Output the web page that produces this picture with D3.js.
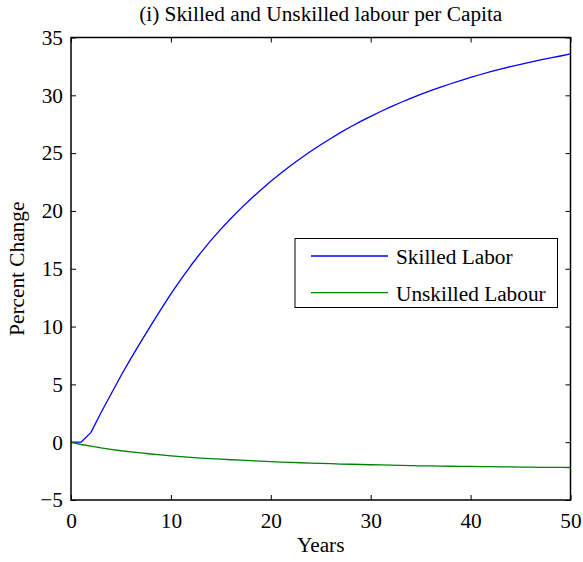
<!DOCTYPE html>
<html>
<head>
<meta charset="utf-8">
<script src="https://cdn.jsdelivr.net/npm/d3@7"></script>
<style>
  html, body { margin: 0; padding: 0; background: #fff; }
  svg { display: block; }
  text { font-family: "Liberation Serif", "Times New Roman", serif; fill: #000; }
</style>
</head>
<body>
<svg id="chart" width="583" height="562"></svg>
<script>
// Years 0..50
const years = d3.range(0, 51);

// Percent change, skilled labour per capita
const skilled = [
  0.0, 0.0, 0.85, 2.55, 4.15, 5.75, 7.25, 8.7, 10.1, 11.48,
  12.82, 14.08, 15.28, 16.4, 17.45, 18.43, 19.35, 20.22, 21.04, 21.82,
  22.56, 23.26, 23.93, 24.56, 25.16, 25.73, 26.27, 26.79, 27.28, 27.74,
  28.18, 28.6, 29.0, 29.38, 29.74, 30.08, 30.4, 30.71, 31.0, 31.28,
  31.55, 31.8, 32.04, 32.26, 32.48, 32.68, 32.87, 33.06, 33.23, 33.4,
  33.58
];

// Percent change, unskilled labour per capita
const unskilled = [
  0.0, -0.2, -0.35, -0.5, -0.62, -0.74, -0.84, -0.93, -1.02, -1.1,
  -1.18, -1.25, -1.31, -1.37, -1.42, -1.47, -1.52, -1.56, -1.6, -1.64,
  -1.68, -1.72, -1.75, -1.78, -1.81, -1.84, -1.86, -1.89, -1.91, -1.93,
  -1.95, -1.97, -1.99, -2.01, -2.02, -2.04, -2.05, -2.07, -2.08, -2.09,
  -2.1, -2.11, -2.12, -2.13, -2.14, -2.15, -2.16, -2.17, -2.17, -2.18,
  -2.19
];

const xTicks = [0, 10, 20, 30, 40, 50];
const yTicks = [-5, 0, 5, 10, 15, 20, 25, 30, 35];

const seriesNames = ["Skilled Labor", "Unskilled Labour"];
const seriesColors = ["#0000ff", "#008000"];

const titleText = "(i) Skilled and Unskilled labour per Capita";
const xLabel = "Years";
const yLabel = "Percent Change";

const svg = d3.select("#chart");
const plotL = 71, plotR = 570.5, plotT = 37.5, plotB = 500;
const fontSize = 21.3;

const x = d3.scaleLinear().domain([0, 50]).range([plotL, plotR]);
const y = d3.scaleLinear().domain([-5, 35]).range([plotB, plotT]);

// Axes with inward ticks, mirrored on top and right
const tickLen = 5;
const axB = d3.axisBottom(x).tickValues(xTicks).tickSizeInner(-tickLen).tickSizeOuter(0).tickPadding(13);
const axT = d3.axisTop(x).tickValues(xTicks).tickSizeInner(-tickLen).tickSizeOuter(0).tickFormat("");
const axL = d3.axisLeft(y).tickValues(yTicks).tickSizeInner(-tickLen).tickSizeOuter(0).tickPadding(8)
  .tickFormat(d => d < 0 ? "\u2212" + Math.abs(d) : d);
const axR = d3.axisRight(y).tickValues(yTicks).tickSizeInner(-tickLen).tickSizeOuter(0).tickFormat("");

function styleAxis(g) {
  g.select(".domain").remove();
  g.selectAll(".tick line").attr("stroke", "#000").attr("stroke-width", 1);
  g.selectAll(".tick text").attr("font-family", "Liberation Serif").attr("font-size", fontSize).attr("fill", "#000");
}

svg.append("g").attr("transform", `translate(0,${plotB})`).call(axB).call(styleAxis);
svg.append("g").attr("transform", `translate(0,${plotT})`).call(axT).call(styleAxis);
svg.append("g").attr("transform", `translate(${plotL},0)`).call(axL).call(styleAxis);
svg.append("g").attr("transform", `translate(${plotR},0)`).call(axR).call(styleAxis);

// Lines (straight segments between yearly points)
const line = d3.line().x((d, i) => x(years[i])).y(d => y(d));
[skilled, unskilled].forEach((s, k) => {
  svg.append("path")
    .datum(s)
    .attr("fill", "none")
    .attr("stroke", seriesColors[k])
    .attr("stroke-width", 1.3)
    .attr("stroke-linejoin", "round")
    .attr("d", line);
});

// Frame
svg.append("rect")
  .attr("x", plotL).attr("y", plotT)
  .attr("width", plotR - plotL).attr("height", plotB - plotT)
  .attr("fill", "none").attr("stroke", "#000").attr("stroke-width", 1.5);

// Title and axis labels
svg.append("text").attr("x", (plotL + plotR) / 2).attr("y", 20.5)
  .attr("text-anchor", "middle").attr("font-size", fontSize).text(titleText);
svg.append("text").attr("x", (plotL + plotR) / 2).attr("y", 552)
  .attr("text-anchor", "middle").attr("font-size", fontSize).text(xLabel);
svg.append("text")
  .attr("transform", `translate(24,${(plotT + plotB) / 2}) rotate(-90)`)
  .attr("text-anchor", "middle").attr("font-size", fontSize).text(yLabel);

// Legend
const lg = svg.append("g");
lg.append("rect").attr("x", 295).attr("y", 238.5).attr("width", 262.5).attr("height", 69)
  .attr("fill", "#fff").attr("stroke", "#000").attr("stroke-width", 1);
seriesNames.forEach((name, k) => {
  const ly = 256 + k * 36.7;
  lg.append("line").attr("x1", 311).attr("x2", 388).attr("y1", ly).attr("y2", ly)
    .attr("stroke", seriesColors[k]).attr("stroke-width", 1.3);
  lg.append("text").attr("x", 396).attr("y", ly + 8).attr("font-size", fontSize).text(name);
});
</script>
</body>
</html>
